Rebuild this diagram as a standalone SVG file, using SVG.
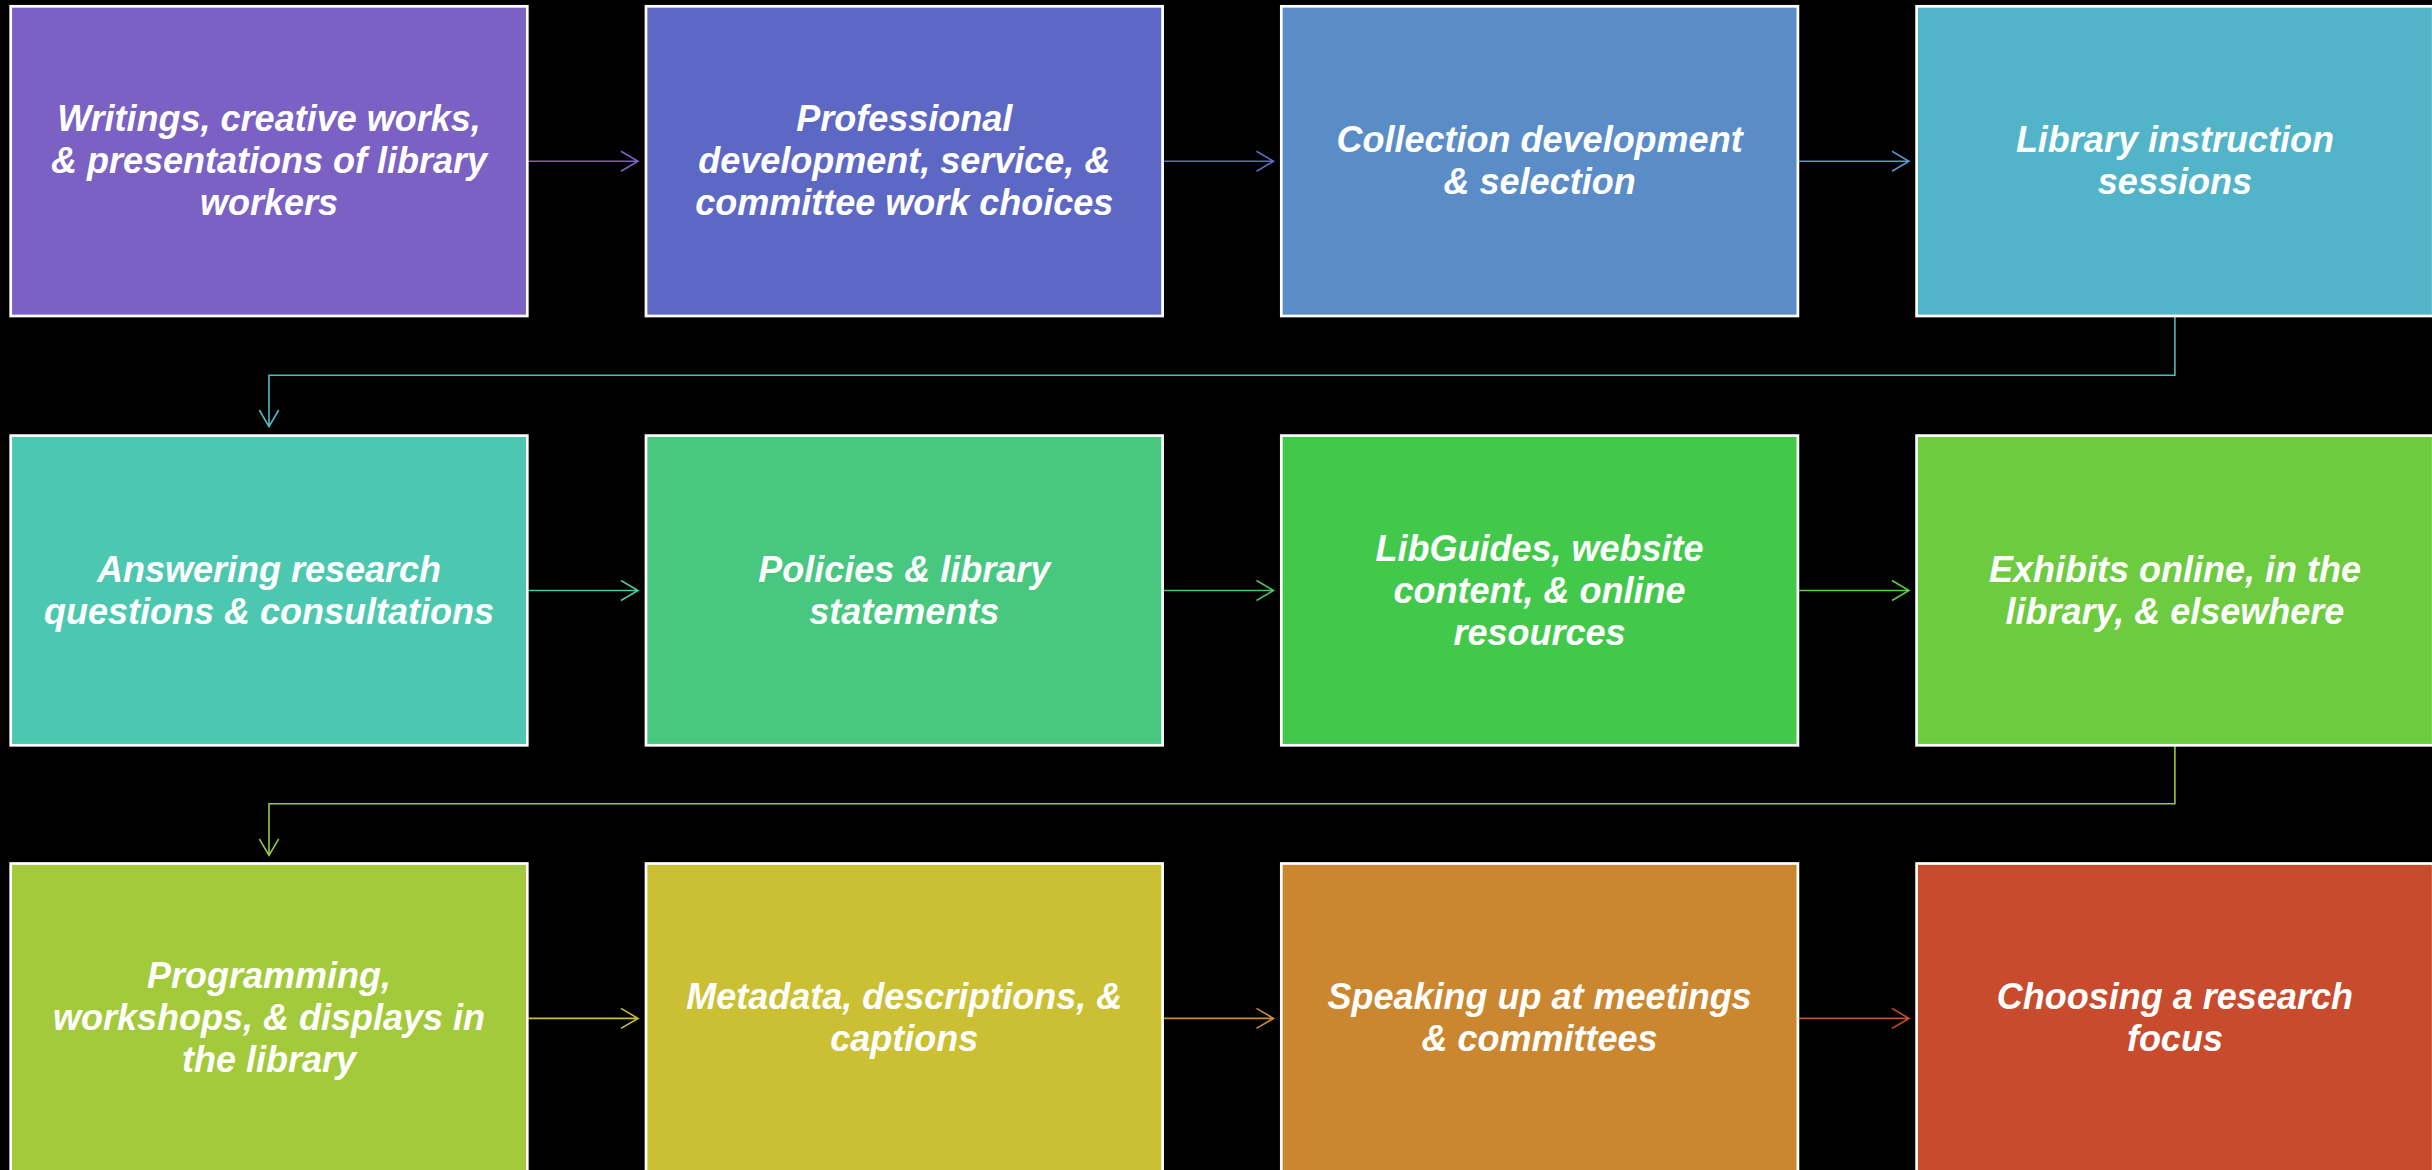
<svg xmlns="http://www.w3.org/2000/svg" width="2432" height="1170" viewBox="0 0 2432 1170">
  <style>
    .box { stroke: #ffffff; stroke-width: 2.7; }
    .label { font-family: "Liberation Sans", Arial, sans-serif; font-size: 36px; font-weight: bold; font-style: italic; fill: #ffffff; text-anchor: middle; }
    .conn { fill: none; stroke-width: 1.6; stroke-linejoin: miter; }
  </style>
  <rect x="0" y="0" width="2432" height="1170" fill="#000000"/>

  <!-- connectors: colours step through the same range as the boxes -->
  <g id="connectors">
    <path class="conn" stroke="#7B61C3" d="M528.5 161.2 H638 M621 151.2 L638 161.2 L621 171.2"/>
    <path class="conn" stroke="#5D6CC5" d="M1163.8 161.2 H1273.5 M1256.5 151.2 L1273.5 161.2 L1256.5 171.2"/>
    <path class="conn" stroke="#5894C8" d="M1799.1 161.2 H1909 M1892 151.2 L1909 161.2 L1892 171.2"/>
    <path class="conn" stroke="#51BAC1" d="M2174.9 317 V375.3 H269 V426.7 M259.3 410 L269 426.7 L278.7 410"/>
    <path class="conn" stroke="#4BC89D" d="M528.5 590.5 H638 M621 580.5 L638 590.5 L621 600.5"/>
    <path class="conn" stroke="#45C865" d="M1163.8 590.5 H1273.5 M1256.5 580.5 L1273.5 590.5 L1256.5 600.5"/>
    <path class="conn" stroke="#5BCA44" d="M1799.1 590.5 H1909 M1892 580.5 L1909 590.5 L1892 600.5"/>
    <path class="conn" stroke="#92CA3D" d="M2174.9 746 V803.7 H269 V855.5 M259.3 838.8 L269 855.5 L278.7 838.8"/>
    <path class="conn" stroke="#C3C234" d="M528.5 1018.4 H638 M621 1008.4 L638 1018.4 L621 1028.4"/>
    <path class="conn" stroke="#CB8C30" d="M1163.8 1018.4 H1273.5 M1256.5 1008.4 L1273.5 1018.4 L1256.5 1028.4"/>
    <path class="conn" stroke="#C84B2D" d="M1799.1 1018.4 H1909 M1892 1008.4 L1909 1018.4 L1892 1028.4"/>
  </g>

  <!-- row 1 -->
  <g id="node1">
    <rect class="box" x="10.7" y="6.3" width="516.6" height="309.7" fill="#7B61C3"/>
    <text class="label"><tspan x="269" y="131">Writings, creative works,</tspan><tspan x="269" y="173">&amp; presentations of library</tspan><tspan x="269" y="215">workers</tspan></text>
  </g>
  <g id="node2">
    <rect class="box" x="646" y="6.3" width="516.6" height="309.7" fill="#5D68C5"/>
    <text class="label"><tspan x="904.3" y="131">Professional</tspan><tspan x="904.3" y="173">development, service, &amp;</tspan><tspan x="904.3" y="215">committee work choices</tspan></text>
  </g>
  <g id="node3">
    <rect class="box" x="1281.3" y="6.3" width="516.6" height="309.7" fill="#5A8CC8"/>
    <text class="label"><tspan x="1539.6" y="152">Collection development</tspan><tspan x="1539.6" y="194">&amp; selection</tspan></text>
  </g>
  <g id="node4">
    <rect class="box" x="1916.6" y="6.3" width="516.6" height="309.7" fill="#52B4C8"/>
    <text class="label"><tspan x="2174.9" y="152">Library instruction</tspan><tspan x="2174.9" y="194">sessions</tspan></text>
  </g>

  <!-- row 2 -->
  <g id="node5">
    <rect class="box" x="10.7" y="435.6" width="516.6" height="309.7" fill="#4DC8B0"/>
    <text class="label"><tspan x="269" y="581.5">Answering research</tspan><tspan x="269" y="623.5">questions &amp; consultations</tspan></text>
  </g>
  <g id="node6">
    <rect class="box" x="646" y="435.6" width="516.6" height="309.7" fill="#47C77F"/>
    <text class="label"><tspan x="904.3" y="581.5">Policies &amp; library</tspan><tspan x="904.3" y="623.5">statements</tspan></text>
  </g>
  <g id="node7">
    <rect class="box" x="1281.3" y="435.6" width="516.6" height="309.7" fill="#42C94B"/>
    <text class="label"><tspan x="1539.6" y="560.5">LibGuides, website</tspan><tspan x="1539.6" y="602.5">content, &amp; online</tspan><tspan x="1539.6" y="644.5">resources</tspan></text>
  </g>
  <g id="node8">
    <rect class="box" x="1916.6" y="435.6" width="516.6" height="309.7" fill="#6CCB3F"/>
    <text class="label"><tspan x="2174.9" y="581.5">Exhibits online, in the</tspan><tspan x="2174.9" y="623.5">library, &amp; elsewhere</tspan></text>
  </g>

  <!-- row 3 -->
  <g id="node9">
    <rect class="box" x="10.7" y="863.5" width="516.6" height="309.7" fill="#A3CA3A"/>
    <text class="label"><tspan x="269" y="988.4">Programming,</tspan><tspan x="269" y="1030.4">workshops, &amp; displays in</tspan><tspan x="269" y="1072.4">the library</tspan></text>
  </g>
  <g id="node10">
    <rect class="box" x="646" y="863.5" width="516.6" height="309.7" fill="#CBC033"/>
    <text class="label"><tspan x="904.3" y="1009.4">Metadata, descriptions, &amp;</tspan><tspan x="904.3" y="1051.4">captions</tspan></text>
  </g>
  <g id="node11">
    <rect class="box" x="1281.3" y="863.5" width="516.6" height="309.7" fill="#CB8630"/>
    <text class="label"><tspan x="1539.6" y="1009.4">Speaking up at meetings</tspan><tspan x="1539.6" y="1051.4">&amp; committees</tspan></text>
  </g>
  <g id="node12">
    <rect class="box" x="1916.6" y="863.5" width="516.6" height="309.7" fill="#C84B2D"/>
    <text class="label"><tspan x="2174.9" y="1009.4">Choosing a research</tspan><tspan x="2174.9" y="1051.4">focus</tspan></text>
  </g>
</svg>
